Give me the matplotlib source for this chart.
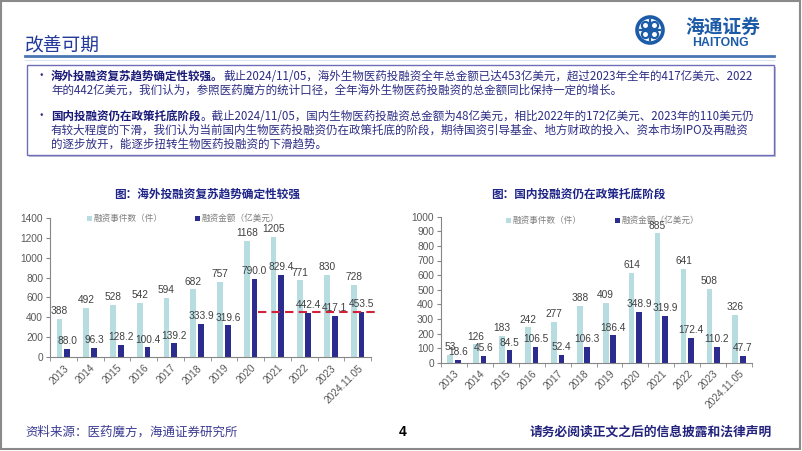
import numpy as np
import matplotlib
matplotlib.use('Agg')
import matplotlib.pyplot as plt
from matplotlib.patches import Rectangle, Circle

plt.rcParams['font.family'] = ['Noto Sans CJK SC', 'DejaVu Sans']

# data
years = ['2013', '2014', '2015', '2016', '2017', '2018', '2019', '2020',
         '2021', '2022', '2023', '2024.11.05']
ov_count = [388, 492, 528, 542, 594, 682, 757, 1168, 1205, 771, 830, 728]
ov_amount = [88.0, 96.3, 128.2, 100.4, 139.2, 333.9, 319.6, 790.0, 829.4, 442.4, 417.1, 453.5]
dm_count = [53, 126, 183, 242, 277, 388, 409, 614, 885, 641, 508, 326]
dm_amount = [18.6, 45.6, 84.5, 106.5, 52.4, 106.3, 186.4, 348.9, 319.9, 172.4, 110.2, 47.7]
legend_names = ['融资事件数（件）', '融资金额（亿美元）']

LIGHT = '#B7DDE1'
DARK = '#2B2C8E'
NAVY = '#23237E'
GRAY = '#595959'

W, H = 802, 451
fig = plt.figure(figsize=(W / 100, H / 100), dpi=100)

# background axes in pixel coordinates
bg = fig.add_axes([0, 0, 1, 1])
bg.set_xlim(0, W)
bg.set_ylim(H, 0)
bg.axis('off')

bg.add_patch(Rectangle((1, 1), W - 3, H - 3, fill=False, ec='#8A8A8A', lw=1.5))

# header
bg.text(25, 45, '改善可期', fontsize=13.5, color='#22399A', va='center', ha='left')
bg.plot([25, 774], [56, 56], color='#4A77B4', lw=2)
bg.plot([25, 774], [60, 60], color='#DCE3EE', lw=0.8)

# logo
bg.add_patch(Circle((650, 30), 13, fill=False, ec='#1C5BA8', lw=2.6))
for dx, dy in [(-4.5, -4.5), (4.5, -4.5), (-4.5, 4.5), (4.5, 4.5)]:
    bg.add_patch(Circle((650 + dx, 30 + dy), 3.6, fill=False, ec='#1C5BA8', lw=1.6))
bg.plot([650, 650], [20, 40], color='#1C5BA8', lw=1.6)
bg.plot([640, 660], [30, 30], color='#1C5BA8', lw=1.6)
bg.text(723, 27, '海通证券', fontsize=13.5, color='#1C5BA8', ha='center', va='center',
        fontweight='bold')
bg.text(720, 43, 'HAITONG', fontsize=8.8, color='#1C5BA8', ha='center', va='center',
        fontweight='bold', family='Liberation Sans')

# text box
bg.add_patch(Rectangle((29, 67), 747, 90, fc='#C4C4D8', ec='none'))
bg.add_patch(Rectangle((27, 65), 747, 90, fc='white', ec='#6E6EB8', lw=1.0))

renderer = fig.canvas.get_renderer()


def mixed_line(x, y, parts, size=8.3):
    for txt, bold in parts:
        t = bg.text(x, y, txt, fontsize=size, va='center', ha='left',
                    color='#1A1A78' if bold else '#2E2E86',
                    fontweight='bold' if bold else 'normal')
        x += t.get_window_extent(renderer).width


bg.text(35, 76, '•', fontsize=8.3, color='#2E2E86', va='center')
mixed_line(51, 76, [('海外投融资复苏趋势确定性较强。', True),
                    ('截止2024/11/05，海外生物医药投融资全年总金额已达453亿美元，超过2023年全年的417亿美元、2022', False)])
mixed_line(51, 90, [('年的442亿美元，我们认为，参照医药魔方的统计口径，全年海外生物医药投融资的总金额同比保持一定的增长。', False)])
bg.text(35, 116, '•', fontsize=8.3, color='#2E2E86', va='center')
mixed_line(51, 116, [('国内投融资仍在政策托底阶段', True),
                     ('。截止2024/11/05，国内生物医药投融资总金额为48亿美元，相比2022年的172亿美元、2023年的110美元仍', False)])
mixed_line(51, 130, [('有较大程度的下滑，我们认为当前国内生物医药投融资仍在政策托底的阶段，期待国资引导基金、地方财政的投入、资本市场IPO及再融资', False)])
mixed_line(51, 144, [('的逐步放开，能逐步扭转生物医药投融资的下滑趋势。', False)])

# footer
bg.text(25, 432, '资料来源：医药魔方，海通证券研究所', fontsize=9, color='#3B3B93', va='center')
bg.text(403, 432, '4', fontsize=10, color='black', va='center', ha='center',
        fontweight='bold', family='Liberation Sans')
bg.text(772, 432, '请务必阅读正文之后的信息披露和法律声明', fontsize=9.2, color=NAVY,
        va='center', ha='right', fontweight='bold')


def draw_chart(rect, title, title_x, counts, amounts, ymax, ystep, legend_x):
    ax = fig.add_axes(rect)
    x = np.arange(len(years))
    b1 = ax.bar(x - 0.145, counts, width=0.22, color=LIGHT, zorder=2)
    b2 = ax.bar(x + 0.145, amounts, width=0.22, color=DARK, zorder=2)
    ax.bar_label(b1, labels=[str(v) for v in counts], padding=2, fontsize=7.3,
                 color='#404040', family='Liberation Sans')
    ax.bar_label(b2, labels=['%.1f' % v for v in amounts], padding=2, fontsize=7.3,
                 color='#404040', family='Liberation Sans')
    ax.set_xlim(-0.5, len(years) - 0.5)
    ax.set_ylim(0, ymax)
    ax.set_yticks(np.arange(0, ymax + 1, ystep))
    ax.set_xticks(x)
    ax.set_xticklabels(years, rotation=45, ha='right', rotation_mode='anchor')
    ax.set_xticks(np.arange(-0.5, len(years)), minor=True)
    ax.tick_params(axis='x', which='major', length=0, pad=4, labelsize=7.3, labelcolor=GRAY)
    ax.tick_params(axis='x', which='minor', length=3, color='#868686')
    ax.tick_params(axis='y', length=3, color='#868686', labelsize=7.3, labelcolor=GRAY, pad=2)
    for lab in ax.get_xticklabels() + ax.get_yticklabels():
        lab.set_family('Liberation Sans')
    for s in ['top', 'right']:
        ax.spines[s].set_visible(False)
    for s in ['left', 'bottom']:
        ax.spines[s].set_color('#868686')
        ax.spines[s].set_linewidth(0.8)
    ax.patch.set_alpha(0)

    bg.text(title_x, 194, title, fontsize=8.4, color='#1F2588', ha='center', va='center',
            fontweight='bold')
    # legend
    for (lx, ly), name, col in zip(legend_x, legend_names, [LIGHT, DARK]):
        bg.add_patch(Rectangle((lx - 2.5, ly - 2.5), 5, 5, fc=col, ec='none'))
        bg.text(lx + 5, ly, name, fontsize=6.2, color='#7F7F7F', va='center', ha='left')
    return ax


ax1 = draw_chart([50 / W, 1 - 357.3 / H, 321 / W, 139.6 / H],
                 '图：海外投融资复苏趋势确定性较强', 207,
                 ov_count, ov_amount, 1400, 200, [(89, 218), (197, 218)])
ax1.plot([7.28, 11.76], [ov_amount[-1], ov_amount[-1]], color='#D0233A', lw=1.5,
         ls=(0, (4, 2.5)), clip_on=False, zorder=3)

ax2 = draw_chart([441 / W, 1 - 362.7 / H, 311 / W, 146 / H],
                 '图：国内投融资仍在政策托底阶段', 578,
                 dm_count, dm_amount, 1000, 100, [(508, 220), (617, 220)])

fig.savefig('out.png', dpi=100)
